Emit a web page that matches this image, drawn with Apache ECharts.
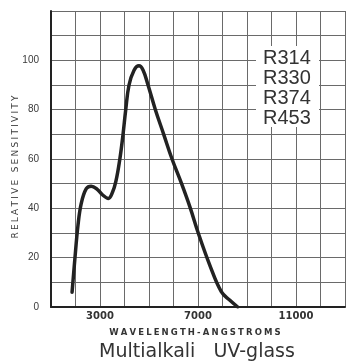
<!DOCTYPE html>
<html>
<head>
<meta charset="utf-8">
<title>Multialkali UV-glass</title>
<script src="https://cdn.jsdelivr.net/npm/echarts@6/dist/echarts.min.js"></script>
<style>
  html, body { margin: 0; padding: 0; background: #fff; }
  #chart { width: 348px; height: 363px; }
</style>
</head>
<body>
<div id="chart"></div>
<script>
// 波长 (Å) 和相对灵敏度，从图上读出来的
const wavelengths = [1860, 1970, 2100, 2235, 2440, 2640, 2910, 3100, 3340, 3510, 3650, 3810, 3940, 4050, 4185, 4390, 4590, 4760, 4960, 5260, 5600, 5940, 6330, 6690, 7010, 7480, 7950, 8290, 8620]
const sensitivity = [6, 19, 33, 42, 48, 49, 47.5, 45.5, 44, 46.5, 51, 60, 70, 80, 90, 96, 97.8, 96, 90, 80, 70, 60, 50, 40, 30, 17, 6.2, 2.8, 0]
const xTickLabels = [3000, 7000, 11000]
const yTickLabels = [0, 20, 40, 60, 80, 100]
const tubes = ['R314', 'R330', 'R374', 'R453']

// 字母间距 ECharts 没有，用窄空格代替
const spaced = (s, sp) => s.split('').join(sp)

const chart = echarts.init(document.getElementById('chart'))
chart.setOption({
  backgroundColor: '#fff',
  animation: false,
  grid: {
    left: 51,
    top: 11,
    width: 298,
    bottom: 56
  },
  xAxis: {
    type: 'value',
    min: 1000,
    max: 13000,
    interval: 1000,
    axisLine: { lineStyle: { color: '#222', width: 2 } },
    axisTick: { show: false },
    axisLabel: {
      margin: 4,
      color: '#333',
      fontFamily: 'DejaVu Sans',
      fontWeight: 'bold',
      fontSize: 10,
      formatter: (v) => (xTickLabels.includes(v) ? String(v) : '')
    },
    splitLine: { lineStyle: { color: '#6a6a6a', width: 1 } }
  },
  yAxis: {
    type: 'value',
    min: 0,
    max: 120,
    interval: 10,
    axisLine: { show: true, lineStyle: { color: '#222', width: 2 } },
    axisTick: { show: false },
    axisLabel: {
      margin: 12,
      color: '#3a3a3a',
      fontFamily: 'Liberation Sans',
      fontSize: 10,
      formatter: (v) => (yTickLabels.includes(v) ? String(v) : '')
    },
    splitLine: { lineStyle: { color: '#6a6a6a', width: 1 } }
  },
  series: [
    {
      type: 'line',
      data: wavelengths.map((w, i) => [w, sensitivity[i]]),
      smooth: 0.4,
      symbol: 'none',
      lineStyle: { color: '#222', width: 3.5, cap: 'round', join: 'round' }
    }
  ],
  graphic: [
    // 型号标注，白底盖住格线
    {
      type: 'rect',
      shape: { x: 256, y: 46, width: 63, height: 81 },
      style: { fill: '#fff' },
      z: 100
    },
    {
      type: 'text',
      x: 263,
      y: 48,
      z: 101,
      style: {
        text: tubes.join('\n'),
        font: '20px "Liberation Sans"',
        lineHeight: 20,
        fill: '#333',
        textVerticalAlign: 'top'
      }
    },
    {
      type: 'text',
      x: 16,
      y: 167,
      rotation: Math.PI / 2,
      style: {
        text: spaced('RELATIVE SENSITIVITY', '\u2005'),
        font: '9px "DejaVu Sans"',
        fill: '#3a3a3a',
        align: 'center',
        verticalAlign: 'middle'
      }
    },
    {
      type: 'text',
      x: 195,
      y: 333,
      style: {
        text: spaced('WAVELENGTH-ANGSTROMS', '\u2005'),
        font: 'bold 8.5px "DejaVu Sans"',
        fill: '#333',
        align: 'center',
        verticalAlign: 'middle'
      }
    },
    {
      type: 'text',
      x: 197,
      y: 352,
      style: {
        text: 'Multialkali   UV-glass',
        font: '19px "DejaVu Sans"',
        fill: '#333',
        align: 'center',
        verticalAlign: 'middle'
      }
    }
  ]
})
</script>
</body>
</html>
